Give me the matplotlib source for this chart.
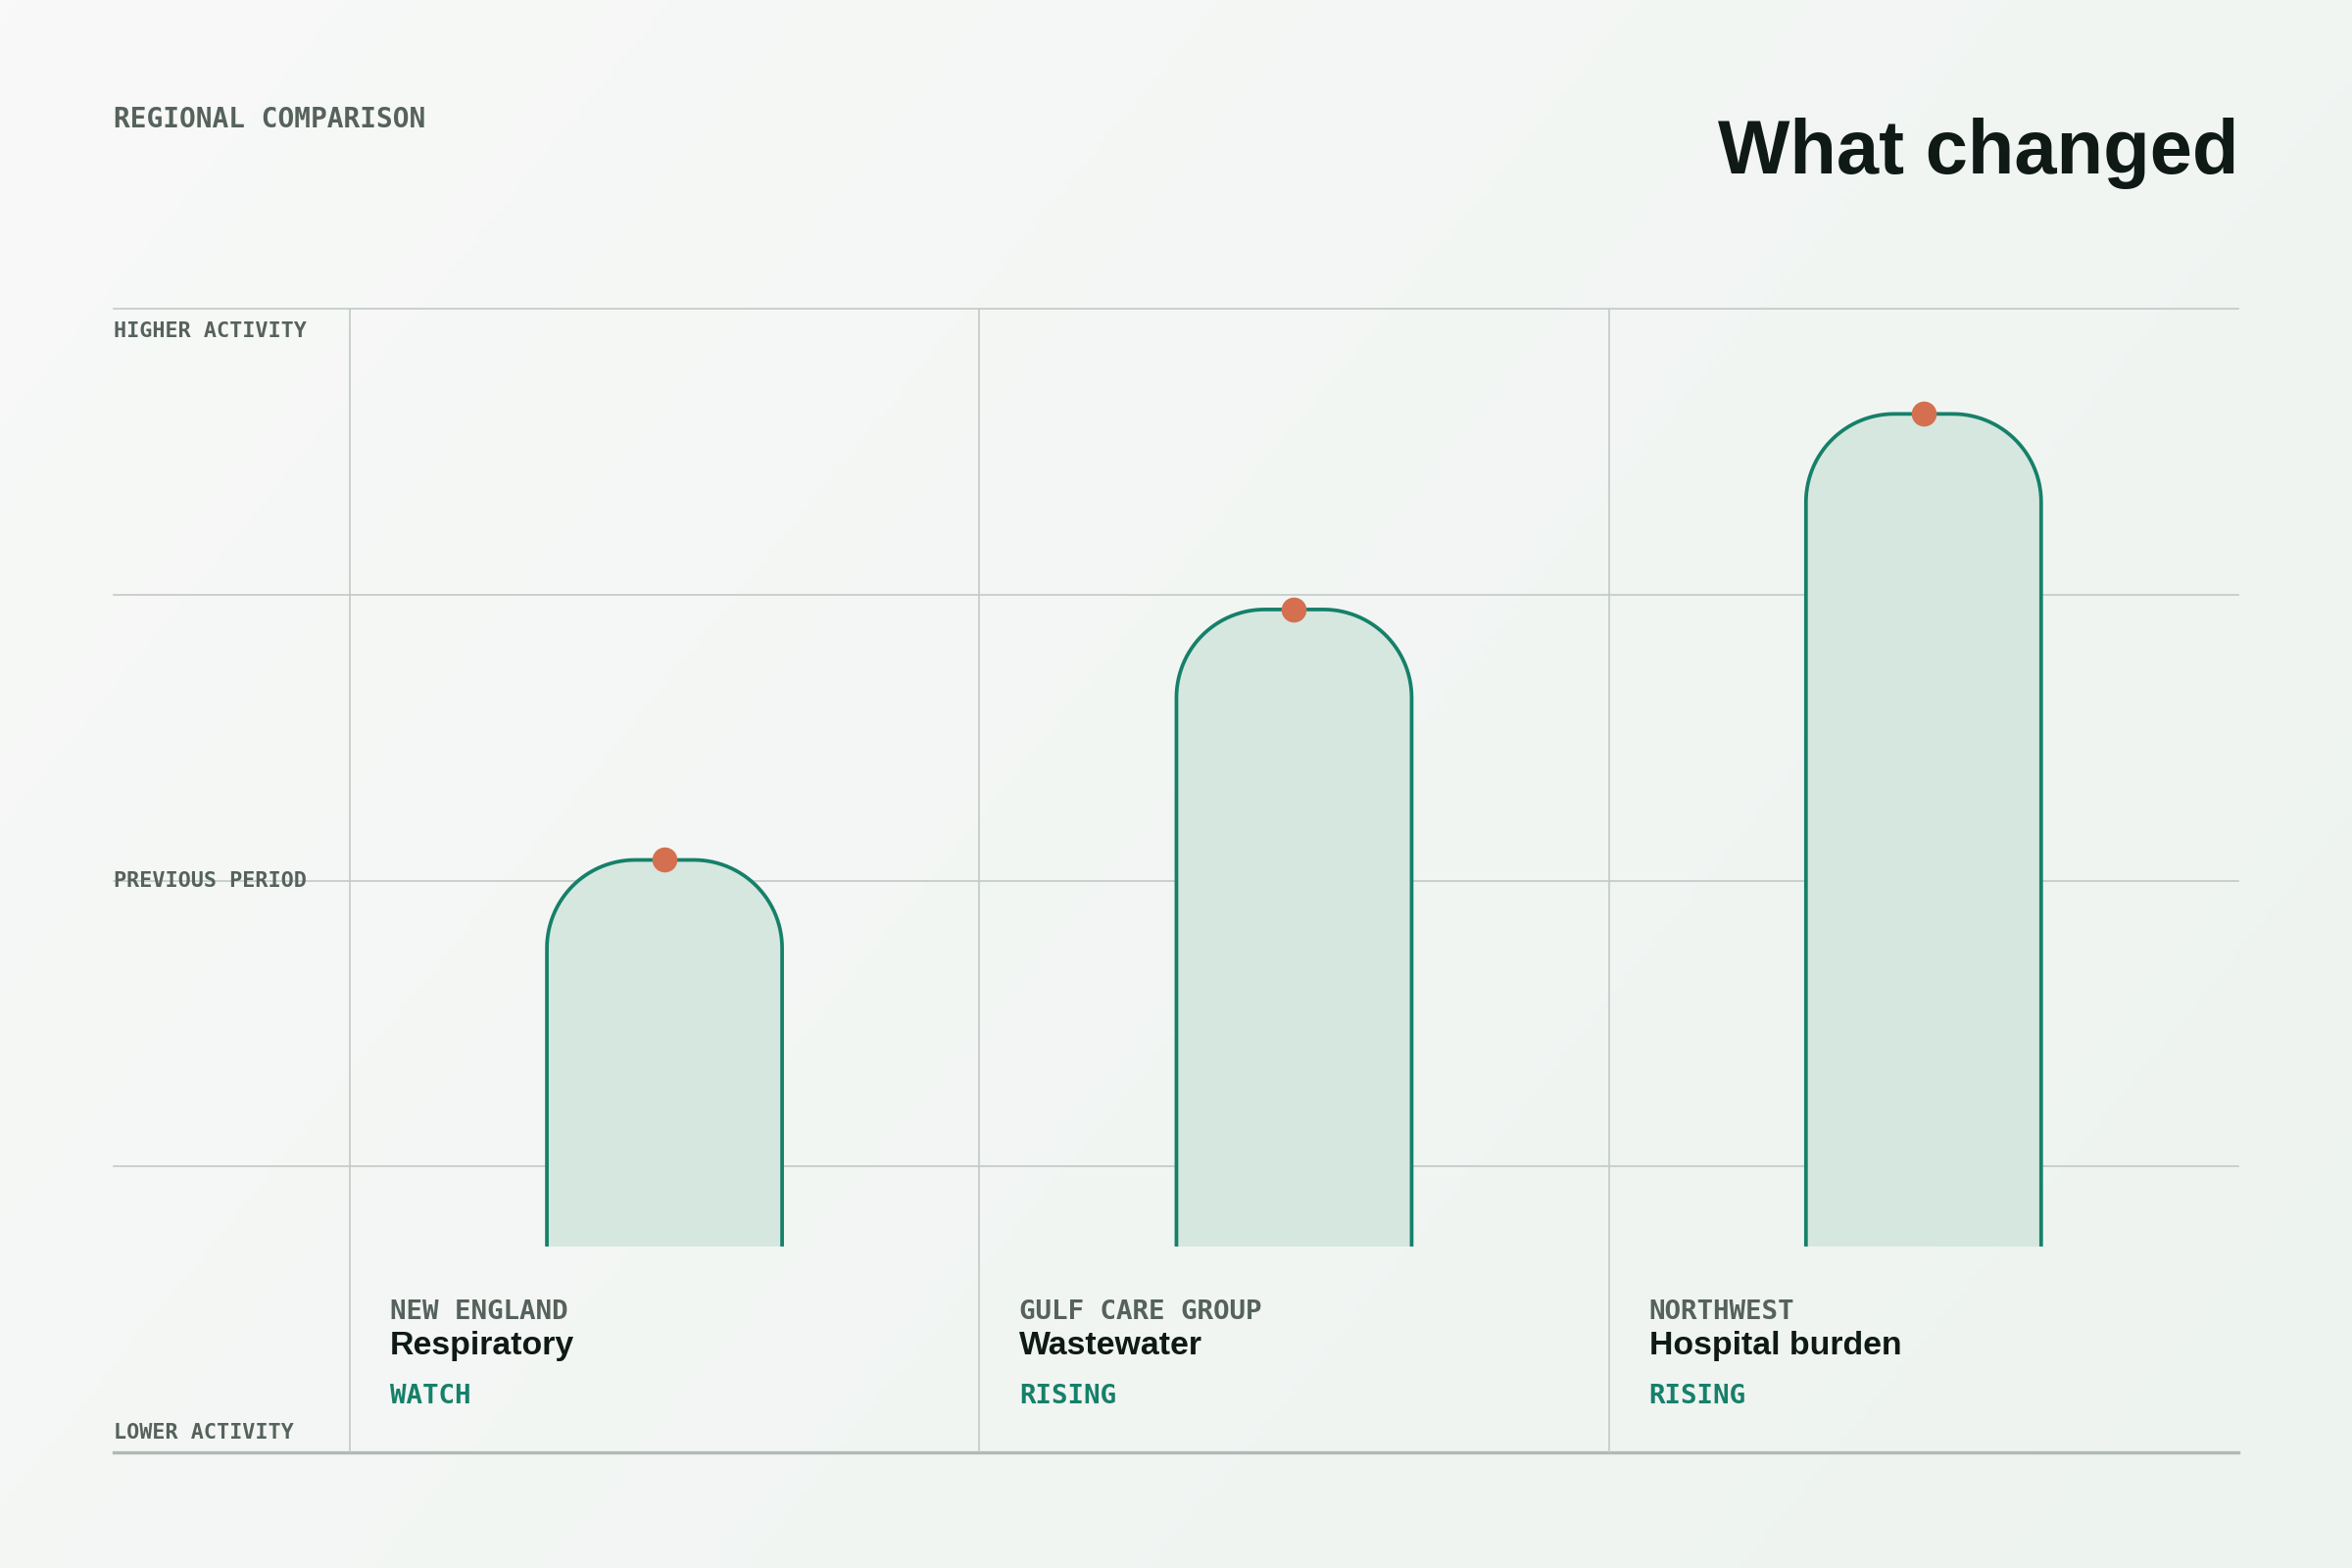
import numpy as np
import matplotlib
matplotlib.use("Agg")
import matplotlib.pyplot as plt
from matplotlib.colors import LinearSegmentedColormap

# data (activity on a 0-100 scale, previous period = 50)
regions = ["NEW ENGLAND", "GULF CARE GROUP", "NORTHWEST"]
signals = ["Respiratory", "Wastewater", "Hospital burden"]
statuses = ["WATCH", "RISING", "RISING"]
activity = [51.8, 73.7, 90.8]
bar_floor = 18
level_labels = ["HIGHER ACTIVITY", "PREVIOUS PERIOD", "LOWER ACTIVITY"]
level_values = [100, 50, 0]
grid_values = [100, 75, 50, 25]

# colours
INK = "#0f1a16"
MUTED = "#56625c"
TEAL = "#16806a"
FILL = "#d5e7df"
DOT = "#d4704f"
GRID = "#c3c9c6"
BASE = "#b1b9b5"

W, H, DPI = 2400, 1600, 200
fig = plt.figure(figsize=(W / DPI, H / DPI), dpi=DPI)


def fx(px):
    return px / W


def fy(py):
    return 1 - py / H


# soft background gradient
bg = fig.add_axes([0, 0, 1, 1], zorder=-10)
xx, yy = np.meshgrid(np.linspace(0, 1, 300), np.linspace(0, 1, 200))
cmap = LinearSegmentedColormap.from_list("bg", ["#f8f9f8", "#edf3ef"])
bg.imshow(xx * 0.65 + yy * 0.35, cmap=cmap, aspect="auto", extent=[0, 1, 0, 1], origin="upper")
bg.axis("off")

# chart area
left, right, top, bottom = 116, 2284, 315, 1482
ax = fig.add_axes([fx(left), fy(bottom), fx(right - left), (bottom - top) / H])
ax.set_xlim(-0.875, 2.5)
ax.set_ylim(0, 100)
ax.axis("off")

for v in grid_values:
    ax.axhline(v, color=GRID, lw=0.6, zorder=1, clip_on=False)
ax.axhline(0, color=BASE, lw=1.2, zorder=1, clip_on=False)
ax.vlines([-0.5, 0.5, 1.5], 0, 100, color=GRID, lw=0.6, zorder=1, clip_on=False)

# pixels per data unit
p0, p1 = ax.transData.transform([(0, 0), (1, 1)])
sx, sy = p1 - p0
half_w = 120 / sx
rx, ry = 90 / sx, 90 / sy

for i, v in enumerate(activity):
    x0, x1 = i - half_w, i + half_w
    t = np.linspace(np.pi, np.pi / 2, 30)
    left_arc_x = x0 + rx + rx * np.cos(t)
    left_arc_y = v - ry + ry * np.sin(t)
    t2 = np.linspace(np.pi / 2, 0, 30)
    right_arc_x = x1 - rx + rx * np.cos(t2)
    right_arc_y = v - ry + ry * np.sin(t2)
    xs = np.concatenate([[x0], left_arc_x, right_arc_x, [x1]])
    ys = np.concatenate([[bar_floor], left_arc_y, right_arc_y, [bar_floor]])
    ax.fill(xs, ys, color=FILL, lw=0, zorder=3)
    ax.plot(xs, ys, color=TEAL, lw=1.35, zorder=4, solid_capstyle="butt")
    ax.plot(i, v, "o", ms=9.2, color=DOT, mec="none", zorder=5, clip_on=False)

# level labels on the left
mono = "DejaVu Sans Mono"
level_baselines = [344, 905, 1468]
for lab, yb in zip(level_labels, level_baselines):
    fig.text(fx(left), fy(yb), lab, family=mono, weight="bold", size=7.85,
             color=MUTED, va="baseline", ha="left", zorder=6)

# category labels under each bar
for i, (reg, sig, st) in enumerate(zip(regions, signals, statuses)):
    xpx = ax.transData.transform((i - 0.5, 0))[0] + 41
    fig.text(fx(xpx), fy(1346), reg, family=mono, weight="bold", size=9.9,
             color=MUTED, va="baseline", ha="left")
    fig.text(fx(xpx), fy(1382), sig, family="Liberation Sans", weight="bold", size=12.2,
             color=INK, va="baseline", ha="left")
    fig.text(fx(xpx), fy(1432), st, family=mono, weight="bold", size=9.9,
             color=TEAL, va="baseline", ha="left")

# header
fig.text(fx(left), fy(130), "REGIONAL COMPARISON", family=mono, weight="bold",
         size=10.0, color=MUTED, va="baseline", ha="left")
fig.text(fx(right), fy(177), "What changed", family="Liberation Sans", weight="bold",
         size=28, color=INK, va="baseline", ha="right")

fig.savefig("out.png", dpi=DPI)
